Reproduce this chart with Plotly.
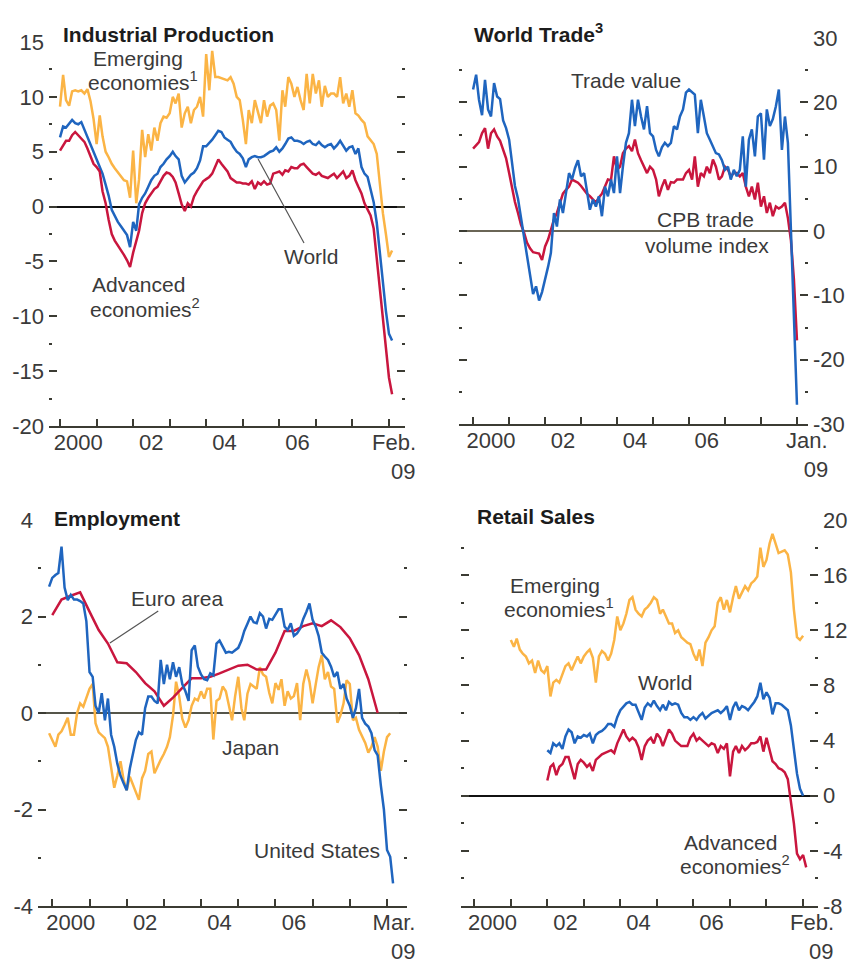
import pandas as pd
import plotly.graph_objects as go

W, H = 852, 959

# Industrial Production, % change yoy, monthly Jan 2000 - Feb 2009
ip_world = [
    6.3, 7.3, 7.2, 7.6, 7.9, 7.6, 7.5, 7.7, 7.0, 6.3, 5.6, 5.0,
    4.4, 3.6, 3.0, 2.0, 1.0, -0.3, -0.9, -1.4, -1.8, -2.2, -2.6, -3.7,
    -1.4, -2.2, 0.2, 0.8, 1.2, 1.8, 2.4, 2.8, 3.0, 3.6, 3.9, 4.3,
    4.6, 5.0, 4.6, 4.3, 2.8, 2.2, 2.6, 2.9, 3.1, 3.5, 4.2, 5.5,
    5.5, 5.8, 6.1, 6.5, 6.9, 6.8, 6.3, 6.1, 5.9, 5.4, 5.0, 4.8,
    4.4, 3.6, 4.3, 4.5, 4.6, 4.5, 4.5, 4.6, 4.8, 5.0, 5.1, 5.4,
    5.0, 5.3, 5.7, 6.2, 6.3, 6.0, 6.0, 5.9, 5.7, 5.9, 6.0, 5.7,
    5.6, 5.9, 5.6, 5.4, 5.6, 5.7, 5.3, 5.6, 6.0, 5.6, 5.1, 5.4,
    5.5, 4.8, 5.3, 3.6, 3.0, 2.7, 1.5, 0.4, -1.5, -4.3, -7.0, -9.5,
    -11.6, -12.2,
]
ip_advanced = [
    5.1, 5.6, 6.0, 6.0, 6.5, 6.8, 6.5, 6.2, 5.9, 5.3, 4.6, 3.9,
    3.6, 3.2, 1.4, 0.3, -1.2, -2.5, -3.1, -3.5, -3.9, -4.4, -4.9, -5.5,
    -4.2, -3.0, -2.2, -0.6, 0.3, 0.8, 1.2, 1.6, 1.8, 2.3, 2.8, 3.1,
    3.0, 2.7, 2.2, 1.2, 0.2, -0.4, 0.3, 0.0, 0.9, 1.4, 1.8, 2.3,
    2.5, 2.7, 3.0, 3.6, 4.3, 3.9, 3.5, 3.2, 2.6, 2.4, 2.2, 2.2,
    2.1, 2.1, 2.0, 2.3, 1.6, 2.2, 2.0, 2.3, 2.0, 2.1, 3.0, 3.1,
    3.2, 2.9, 3.3, 3.2, 3.6, 3.5, 3.5, 3.8, 3.9, 3.6, 3.3, 3.0,
    2.9, 3.1, 2.8, 2.7, 2.6, 2.8, 3.0, 2.6, 2.9, 3.2, 2.6, 2.8,
    3.3, 2.4, 1.8, 1.2, 0.3, -0.3, -0.8, -2.0, -4.8, -7.6, -10.6, -13.0,
    -15.6, -17.1,
]
ip_emerging = [
    9.1, 12.0, 9.7, 9.2, 10.5, 10.6, 10.5, 10.6, 10.3, 10.7, 9.6, 8.0,
    5.7, 8.3, 6.4, 5.0, 4.5, 3.9, 3.5, 3.1, 2.7, 2.4, 2.3, 0.8,
    5.1, 0.3, 2.5, 7.0, 4.5, 6.6, 5.1, 7.2, 6.0, 7.6, 8.2, 8.1,
    8.5, 10.0, 9.4, 10.3, 7.2, 8.5, 9.1, 7.6, 8.8, 9.1, 10.0, 8.2,
    13.9, 10.6, 14.2, 11.8, 11.8, 11.7, 11.6, 11.5, 11.8, 11.2, 10.0, 9.7,
    7.9, 5.7, 8.8, 7.6, 9.7, 8.5, 7.6, 9.7, 8.2, 9.2, 9.4, 8.8,
    6.0, 10.6, 9.1, 11.8, 11.2, 10.0, 10.9, 9.7, 8.8, 12.1, 9.4, 12.1,
    10.3, 11.5, 9.1, 11.0, 10.0, 10.3, 10.3, 10.0, 11.8, 9.4, 10.3, 9.1,
    10.6, 8.5, 8.3, 7.9, 7.6, 6.4, 6.0, 5.7, 4.8, 2.1, -0.6, -2.5,
    -4.6, -4.0,
]

# World Trade, monthly Jan 2000 - Jan 2009
trade_value = [
    22.0, 24.3, 20.4, 18.0, 23.5, 18.9, 17.8, 23.0, 20.9, 20.5, 17.2, 16.0,
    14.2, 10.0, 7.0, 5.0, 2.0, -0.8, -3.5, -6.5, -9.8, -8.6, -10.8, -9.5,
    -7.6, -5.5, -3.4, 2.8, 0.7, 4.9, 2.8, 6.0, 9.0, 8.0, 9.8, 11.0,
    8.5, 9.0, 5.9, 3.3, 4.9, 3.8, 5.4, 2.3, 6.9, 5.4, 8.0, 5.9,
    11.6, 5.9, 10.0, 13.7, 15.2, 20.4, 16.3, 20.4, 17.8, 15.8, 19.4, 15.2,
    14.7, 12.6, 11.6, 13.0, 13.7, 13.2, 13.7, 16.3, 15.8, 17.8, 18.9, 21.5,
    22.0, 21.5, 21.2, 15.2, 20.4, 17.8, 15.2, 14.2, 13.2, 12.1, 11.9, 11.0,
    9.5, 10.0, 8.0, 9.5, 8.5, 9.5, 14.7, 6.9, 14.2, 15.8, 11.6, 17.8,
    18.3, 11.1, 18.9, 16.3, 17.4, 19.4, 22.0, 12.6, 17.8, 13.7, 0.0, -15.0,
    -27.0,
]
trade_cpb = [
    12.8, 13.3, 13.8, 15.2, 16.0, 12.8, 15.2, 15.8, 14.7, 14.0, 12.5, 11.3,
    9.0, 6.4, 4.5, 2.8, 1.0, -0.2, -1.8, -2.7, -3.3, -3.4, -3.5, -4.5,
    -2.4, -1.3, 0.2, 1.8, 2.8, 4.5, 5.8, 6.4, 6.9, 8.0, 7.8, 7.5,
    7.0, 6.3, 5.8, 5.4, 4.9, 4.4, 5.2, 5.8, 6.9, 8.0, 7.9, 11.6,
    9.5, 10.0, 12.1, 12.8, 13.2, 12.4, 14.2, 12.1, 11.0, 10.0, 9.0, 10.0,
    9.5, 8.0, 5.4, 6.9, 8.0, 6.4, 7.6, 7.5, 8.0, 8.0, 8.0, 9.0,
    9.5, 8.0, 11.6, 6.9, 9.0, 8.5, 10.0, 9.0, 11.1, 10.0, 8.0, 8.5,
    10.0, 9.5, 8.5, 9.0, 9.0, 8.5, 9.0, 6.9, 5.4, 6.9, 4.9, 7.5,
    3.8, 5.4, 2.8, 4.4, 2.3, 3.8, 3.5, 3.8, 4.4, 2.0, -1.5, -7.5,
    -17.0,
]

# Employment: US monthly Dec 1999 - Mar 2009, Japan Dec 1999 - Feb 2009,
# euro area quarterly 2000Q1 - 2008Q4
emp_us = [
    2.62,
    2.8, 2.86, 2.9, 3.45, 2.6, 2.34, 2.45, 2.35, 2.35, 2.32, 2.27, 1.9,
    0.85, 0.75, 0.15, 0.0, 0.41, -0.15, 0.3, -0.45, -0.7, -1.05, -1.3, -1.45,
    -1.6, -1.15, -0.85, -0.56, -0.4, -0.45, 0.1, 0.34, 0.34, 0.25, 0.2, 1.1,
    0.6, 1.0, 0.7, 1.05, 0.75, 0.95, 0.6, 0.45, 0.25, 1.3, 1.4, 0.96,
    0.8, 0.7, 0.68, 0.82, 0.78, 1.44, 1.5, 1.37, 1.25, 1.27, 1.25, 1.3,
    1.35, 1.5, 1.7, 1.85, 2.0, 1.88, 1.86, 2.07, 2.0, 1.75, 1.95, 1.93,
    2.05, 2.15, 2.15, 1.79, 1.72, 1.86, 1.6, 1.65, 1.75, 1.95, 2.1, 2.27,
    1.93, 1.79, 1.6, 1.25, 1.17, 1.1, 0.96, 0.75, 0.85, 0.5, 0.6, 0.3,
    0.15, -0.1, 0.1, 0.5, -0.1, -0.22, -0.28, -0.42, -0.77, -0.88, -1.5, -2.0,
    -2.84, -2.98, -3.53,
]
emp_japan = [
    -0.42,
    -0.55, -0.7, -0.45, -0.38, -0.25, -0.1, -0.45, -0.45, 0.0, 0.2, 0.13, 0.3,
    0.5, 0.6, -0.21, -0.4, -0.45, -0.52, -0.7, -1.1, -1.55, -1.3, -1.0, -1.38,
    -1.6, -1.32, -1.46, -1.62, -1.8, -1.35, -1.2, -0.85, -0.8, -1.25, -1.1, -0.97,
    -0.85, -0.7, -0.5, -0.05, 0.65, 0.34, -0.12, -0.3, -0.15, 0.15, 0.3, 0.26,
    0.45, 0.3, 0.5, 0.5, -0.55, 0.25, 0.3, 0.55, 0.45, 0.15, -0.15, 0.35,
    0.75, 0.1, -0.15, 0.4, 0.6, 0.55, 0.5, 0.95, 0.8, 0.75, 0.42, 0.2,
    0.62, 0.48, 0.7, 0.15, 0.45, 0.3, 0.35, 0.62, -0.15, 0.6, 0.9, 0.65,
    0.2, 0.6, 0.95, 1.2, 0.7, 0.85, 0.55, 0.5, -0.2, -0.05, 0.2, 0.68,
    0.6, -0.15, -0.1, -0.35, -0.5, -0.62, -0.82, -0.7, -0.5, -0.7, -1.2, -0.8,
    -0.5, -0.42,
]
emp_euro = [
    2.03, 2.35, 2.43, 2.5, 2.1, 1.72, 1.44, 1.05, 1.03, 0.85, 0.62, 0.45,
    0.15, 0.32, 0.52, 0.72, 0.72, 0.75, 0.82, 0.9, 0.98, 1.0, 0.9, 0.9,
    1.25, 1.7, 1.7, 1.8, 1.86, 1.8, 1.92, 1.78, 1.55, 1.2, 0.7, 0.0,
]

# Retail Sales: emerging Jan 2001 - Jan 2009, world Jan 2002 - Jan 2009,
# advanced Jan 2002 - Feb 2009
rs_emerging = [
    11.3, 10.8, 11.4, 10.6, 10.3, 10.1, 9.6, 9.8, 8.9, 9.8, 9.1, 8.9,
    9.4, 7.2, 8.2, 8.4, 8.2, 8.9, 9.4, 9.6, 9.1, 9.6, 10.1, 9.6,
    10.1, 10.4, 10.6, 10.0, 8.2, 10.1, 10.5, 10.3, 9.8, 10.3, 11.3, 13.0,
    12.0, 12.5, 13.2, 14.2, 14.4, 13.5, 13.2, 13.0, 13.5, 13.7, 14.0, 14.4,
    14.2, 13.2, 13.5, 13.0, 12.5, 12.5, 11.8, 12.0, 11.5, 11.3, 11.1, 11.0,
    10.3, 9.8, 10.6, 9.4, 11.1, 11.5, 12.0, 12.3, 14.0, 14.4, 13.5, 14.2,
    13.3, 14.4, 15.2, 14.3, 14.7, 15.2, 14.9, 15.4, 15.6, 15.9, 18.0, 16.6,
    17.1, 18.3, 19.0, 18.3, 17.6, 17.7, 17.8, 17.5, 16.2, 13.5, 11.5, 11.3,
    11.6,
]
rs_world = [
    3.3, 3.1, 3.8, 3.6, 3.8, 3.4, 4.3, 4.8, 4.6, 3.8, 4.3, 4.2,
    4.4, 4.3, 4.5, 3.8, 4.4, 4.6, 4.7, 4.9, 5.2, 5.2, 5.0, 5.7,
    6.2, 6.5, 6.7, 6.8, 6.6, 6.6, 6.0, 5.5, 6.4, 6.7, 6.5, 6.9,
    6.5, 6.2, 6.6, 6.2, 6.8, 6.6, 6.7, 6.6, 6.0, 5.7, 5.7, 5.5,
    5.7, 5.5, 5.8, 6.0, 5.6, 5.8, 6.0, 6.1, 6.2, 6.0, 6.2, 6.5,
    5.5, 6.4, 6.8, 6.2, 6.5, 6.4, 6.2, 6.5, 6.8, 7.2, 8.2, 7.0,
    7.5, 7.1, 5.9, 6.7, 6.7, 6.6, 6.4, 6.2, 5.1, 3.3, 1.6, 0.5,
    0.0,
]
rs_advanced = [
    1.1, 2.1, 2.3, 1.5, 2.1, 2.3, 2.8, 2.8, 2.0, 1.2, 2.3, 2.6,
    2.4, 2.1, 2.3, 1.8, 2.6, 2.8, 3.0, 3.1, 3.2, 3.3, 3.1, 3.8,
    4.3, 4.8, 4.3, 4.0, 4.2, 4.0, 3.5, 2.6, 3.6, 4.0, 4.2, 3.8,
    4.5, 4.2, 3.6, 4.2, 4.8, 4.5, 4.0, 3.8, 3.6, 3.6, 3.6, 4.2,
    4.5, 4.0, 4.2, 4.0, 3.8, 3.6, 3.8, 3.7, 3.1, 3.6, 3.4, 3.8,
    1.4, 3.2, 3.6, 3.1, 3.6, 3.3, 3.5, 3.8, 3.8, 3.9, 4.3, 3.2,
    4.2, 3.3, 2.5, 2.3, 2.0, 1.9, 1.7, 1.2, -0.4, -2.0, -4.2, -4.6,
    -4.3, -5.2,
]

# tick labels
year_labels = ['2000', '02', '04', '06']
year_label_dates = ['2000-07-01', '2002-07-01', '2004-07-01', '2006-07-01']
year_ticks = [f'{y}-01-01' for y in range(2000, 2010)]

ORANGE = '#fbb445'
BLUE = '#1f65bf'
RED = '#c9163e'
AXIS = '#3b3b33'
TXT = '#3a3a3a'
FONT = 'Liberation Sans, Arial, sans-serif'
NB = '\u00a0'


def months(start, vals):
    return pd.date_range(start, periods=len(vals), freq='MS')


def line(x, y, color, n):
    return go.Scatter(x=x, y=y, mode='lines', line=dict(color=color, width=2.5),
                      xaxis=f'x{n}', yaxis=f'y{n}', showlegend=False, hoverinfo='skip')


def xaxis(px0, px1, rng, end_date, end_text, n):
    return dict(
        domain=[px0 / W, px1 / W], range=rng, type='date', anchor=f'y{n}',
        showline=True, linecolor=AXIS, linewidth=2, showgrid=False, zeroline=False,
        tickmode='array', tickvals=year_label_dates + [end_date],
        ticktext=year_labels + [end_text], ticks='', ticklabelstandoff=-4,
        tickfont=dict(size=22, color=TXT, family=FONT),
        minor=dict(tickmode='array', tickvals=year_ticks, ticks='inside',
                   ticklen=7, tickwidth=1.5, tickcolor=AXIS, showgrid=False),
        fixedrange=True,
    )


def yaxis(py0, py1, rng, major, labels, minor, side, n, zero=AXIS):
    return dict(
        domain=[1 - py1 / H, 1 - py0 / H], range=rng, anchor=f'x{n}', side=side,
        showline=False, showgrid=False, zeroline=True, zerolinecolor=zero,
        zerolinewidth=1.5, tickmode='array', tickvals=major, ticktext=labels,
        ticks='inside', ticklen=8, tickwidth=1.5, tickcolor=AXIS, mirror='ticks',
        tickfont=dict(size=22, color=TXT, family=FONT), ticklabelstandoff=4,
        minor=dict(tickmode='array', tickvals=minor, ticks='inside', ticklen=3,
                   tickwidth=1.5, tickcolor=AXIS, showgrid=False),
        fixedrange=True,
    )


fig = go.Figure()

# panel 1: industrial production
d = months('2000-01-01', ip_world)
fig.add_trace(line(d, ip_emerging, ORANGE, 1))
fig.add_trace(line(d, ip_world, BLUE, 1))
fig.add_trace(line(d, ip_advanced, RED, 1))

# panel 2: world trade
d = months('2000-01-01', trade_value)
fig.add_trace(line(d, trade_cpb, RED, 2))
fig.add_trace(line(d, trade_value, BLUE, 2))

# panel 3: employment
fig.add_trace(line(months('1999-12-01', emp_japan), emp_japan, ORANGE, 3))
fig.add_trace(line(pd.date_range('2000-01-01', periods=len(emp_euro), freq='QS'),
                   emp_euro, RED, 3))
fig.add_trace(line(months('1999-12-01', emp_us), emp_us, BLUE, 3))

# panel 4: retail sales
fig.add_trace(line(months('2001-01-01', rs_emerging), rs_emerging, ORANGE, 4))
fig.add_trace(line(months('2002-01-01', rs_advanced), rs_advanced, RED, 4))
fig.add_trace(line(months('2002-01-01', rs_world), rs_world, BLUE, 4))

fig.update_layout(
    width=W, height=H, template='none',
    margin=dict(l=0, r=0, t=0, b=0, pad=0),
    paper_bgcolor='white', plot_bgcolor='white',
    font=dict(family=FONT, size=21, color=TXT),
    xaxis=xaxis(49, 405, ['1999-09-13', '2009-06-10'], '2009-02-20',
                f'Feb.<br>{NB*3}09', 1),
    yaxis=yaxis(42, 426, [-20, 15], list(range(-20, 16, 5)),
                ['-20', '-15', '-10', '-5', '0', '5', '10', '15'],
                [-17.5, -12.5, -7.5, -2.5, 2.5, 7.5, 12.5], 'left', 1, zero='#111'),
    xaxis2=xaxis(459, 808, ['1999-08-11', '2009-04-23'], '2009-04-12',
                 f'Jan.<br>{NB*3}09', 2),
    yaxis2=yaxis(38, 424, [-30, 30], list(range(-30, 31, 10)),
                 ['-30', '-20', '-10', '0', '10', '20', '30'],
                 [-25, -15, -5, 5, 15, 25], 'right', 2, zero='#6a6556'),
    xaxis3=xaxis(38, 407, ['1999-08-14', '2009-07-16'], '2009-03-10',
                 f'Mar.<br>{NB*3}09', 3),
    yaxis3=yaxis(520, 906, [-4, 4], [-4, -2, 0, 2, 4], ['-4', '-2', '0', '2', '4'],
                 [-3, -1, 1, 3], 'left', 3, zero='#55554a'),
    xaxis4=xaxis(461, 818, ['1999-08-22', '2009-05-30'], '2009-04-01',
                 f'Feb.<br>{NB*3}09', 4),
    yaxis4=yaxis(520, 906, [-8, 20], list(range(-8, 21, 4)),
                 ['-8', '-4', '0', '4', '8', '12', '16', '20'],
                 [-6, -2, 2, 6, 10, 14, 18], 'right', 4, zero='#111'),
)


def note(text, xpx, ypx, anchor='center', bold=False, size=21):
    fig.add_annotation(
        text=f'<b>{text}</b>' if bold else text, xref='paper', yref='paper',
        x=xpx / W, y=1 - ypx / H, xanchor=anchor, yanchor='middle', showarrow=False,
        font=dict(family=FONT, size=size, color='#1c1c1c' if bold else TXT),
    )


# panel titles
note('Industrial Production', 61, 35, anchor='left', bold=True)
note('World Trade<sup>3</sup>', 472, 33, anchor='left', bold=True)
note('Employment', 52, 518, anchor='left', bold=True)
note('Retail Sales', 475, 516, anchor='left', bold=True)

# series labels
note('Emerging', 138, 58)
note('economies<sup>1</sup>', 143, 81)
note('Advanced', 138, 285)
note('economies<sup>2</sup>', 145, 308)
note('Trade value', 626, 80)
note('CPB trade', 705, 220)
note('volume index', 707, 245)
note('Japan', 251, 747)
note('United States', 317, 850)
note('Emerging', 555, 585)
note('economies<sup>1</sup>', 559, 608)
note('World', 665, 682)
note('Advanced', 730, 842)
note('economies<sup>2</sup>', 735, 865)

# labels with leader lines
fig.add_annotation(text='World', x='2005-06-03', y=4.33, xref='x', yref='y',
                   ax=53, ay=97, showarrow=True, arrowhead=0, arrowwidth=1.2,
                   arrowcolor='#555', font=dict(family=FONT, size=21, color=TXT))
fig.add_annotation(text='Euro area', x='2001-07-20', y=1.45, xref='x3', yref='y3',
                   ax=68, ay=-45, showarrow=True, arrowhead=0, arrowwidth=1.2,
                   arrowcolor='#555', font=dict(family=FONT, size=21, color=TXT))

fig.write_html('out.html', config={'displayModeBar': False},
               post_script="document.body.style.margin='0';")
